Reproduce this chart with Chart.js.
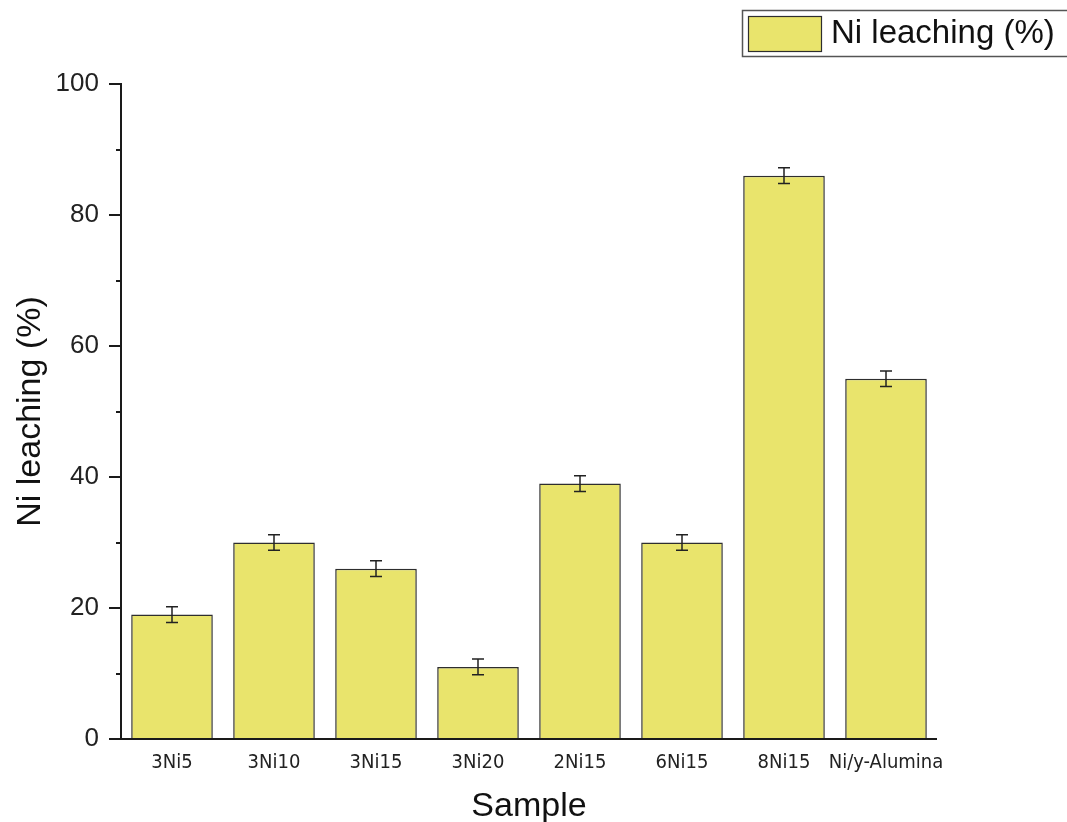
<!DOCTYPE html>
<html>
<head>
<meta charset="utf-8">
<title>Ni leaching (%)</title>
<script src="https://cdn.jsdelivr.net/npm/chart.js@4/dist/chart.umd.min.js"></script>
<style>
  html, body { margin: 0; padding: 0; background: #ffffff; }
  #wrap { width: 1067px; height: 822px; position: relative; }
</style>
</head>
<body>
<div id="wrap"><canvas id="chart" width="1067" height="822"></canvas></div>
<script>
// Samples and measured Ni leaching with its error
const samples = ['3Ni5', '3Ni10', '3Ni15', '3Ni20', '2Ni15', '6Ni15', '8Ni15', 'Ni/y-Alumina'];
const leaching = [19, 30, 26, 11, 39, 30, 86, 55];
const leachingErr = [1.2, 1.2, 1.2, 1.2, 1.2, 1.2, 1.2, 1.2];
const yMajorTicks = [0, 20, 40, 60, 80, 100];
const yMinorTicks = [10, 30, 50, 70, 90];

const seriesLabel = 'Ni leaching (%)';
const barFill = '#e9e46c';
const barEdge = '#2e2e2e';
const axisColor = '#1a1a1a';

// Error bars with caps, drawn on top of the bars
const errorBars = {
  id: 'errorBars',
  afterDatasetsDraw(chart) {
    const ctx = chart.ctx;
    const meta = chart.getDatasetMeta(0);
    const y = chart.scales.y;
    ctx.save();
    ctx.strokeStyle = '#222';
    ctx.lineWidth = 1.5;
    meta.data.forEach((bar, i) => {
      const x = bar.x;
      const top = y.getPixelForValue(leaching[i] + leachingErr[i]);
      const bot = y.getPixelForValue(leaching[i] - leachingErr[i]);
      const cap = 6;
      ctx.beginPath();
      ctx.moveTo(x, top); ctx.lineTo(x, bot);
      ctx.moveTo(x - cap, top); ctx.lineTo(x + cap, top);
      ctx.moveTo(x - cap, bot); ctx.lineTo(x + cap, bot);
      ctx.stroke();
    });
    ctx.restore();
  }
};

// Axis lines with outward major and minor ticks
const axesFrame = {
  id: 'axesFrame',
  afterDraw(chart) {
    const ctx = chart.ctx;
    const a = chart.chartArea;
    const y = chart.scales.y;
    ctx.save();
    ctx.strokeStyle = axisColor;
    ctx.lineWidth = 2;
    ctx.beginPath();
    ctx.moveTo(a.left, y.getPixelForValue(100) - 1);
    ctx.lineTo(a.left, a.bottom);
    ctx.lineTo(a.right, a.bottom);
    ctx.stroke();
    ctx.beginPath();
    yMajorTicks.forEach(v => {
      const py = Math.round(y.getPixelForValue(v));
      ctx.moveTo(a.left - 12, py); ctx.lineTo(a.left, py);
    });
    yMinorTicks.forEach(v => {
      const py = Math.round(y.getPixelForValue(v));
      ctx.moveTo(a.left - 5, py); ctx.lineTo(a.left, py);
    });
    ctx.stroke();
    ctx.restore();
  }
};

// Framed legend entry in the upper right corner
const boxLegend = {
  id: 'boxLegend',
  afterDraw(chart) {
    const ctx = chart.ctx;
    ctx.save();
    ctx.strokeStyle = '#555';
    ctx.lineWidth = 1.5;
    ctx.strokeRect(742.5, 10.5, 340, 46);
    ctx.fillStyle = barFill;
    ctx.fillRect(748, 16, 74, 36);
    ctx.strokeStyle = barEdge;
    ctx.lineWidth = 1.2;
    ctx.strokeRect(748.5, 16.5, 73, 35);
    ctx.fillStyle = '#111';
    ctx.font = '33px "Liberation Sans", Arial, sans-serif';
    ctx.textBaseline = 'middle';
    ctx.fillText(chart.data.datasets[0].label, 831, 34);
    ctx.restore();
  }
};

new Chart(document.getElementById('chart'), {
  type: 'bar',
  data: {
    labels: samples,
    datasets: [{
      label: seriesLabel,
      data: leaching,
      backgroundColor: barFill,
      borderColor: barEdge,
      borderWidth: 1.5,
      barPercentage: 0.8,
      categoryPercentage: 1.0
    }]
  },
  options: {
    responsive: false,
    animation: false,
    devicePixelRatio: 1,
    layout: { padding: { top: 84, right: 130, bottom: 0, left: 0 } },
    plugins: {
      legend: { display: false },
      tooltip: { enabled: false }
    },
    scales: {
      x: {
        grid: { display: false, drawTicks: false },
        border: { display: false },
        ticks: {
          color: '#222',
          font: { family: '"DejaVu Sans Condensed", "Liberation Sans Narrow", Arial, sans-serif', size: 20 },
          padding: 12,
          maxRotation: 0,
          autoSkip: false
        },
        title: {
          display: true,
          text: 'Sample',
          color: '#111',
          font: { family: '"Liberation Sans", Arial, sans-serif', size: 34, lineHeight: 0.92 },
          padding: { top: 3, bottom: 0 }
        },
        afterFit(scale) { scale.height = 83; }
      },
      y: {
        min: 0,
        max: 100,
        grid: { display: false, drawTicks: false },
        border: { display: false },
        ticks: {
          stepSize: 20,
          color: '#222',
          font: { family: '"Liberation Sans", Arial, sans-serif', size: 26 },
          padding: 22
        },
        title: {
          display: true,
          text: 'Ni leaching (%)',
          color: '#111',
          font: { family: '"Liberation Sans", Arial, sans-serif', size: 34 },
          padding: { top: 10, bottom: 10 }
        },
        afterFit(scale) { scale.width = 121; }
      }
    }
  },
  plugins: [errorBars, axesFrame, boxLegend]
});
</script>
</body>
</html>
